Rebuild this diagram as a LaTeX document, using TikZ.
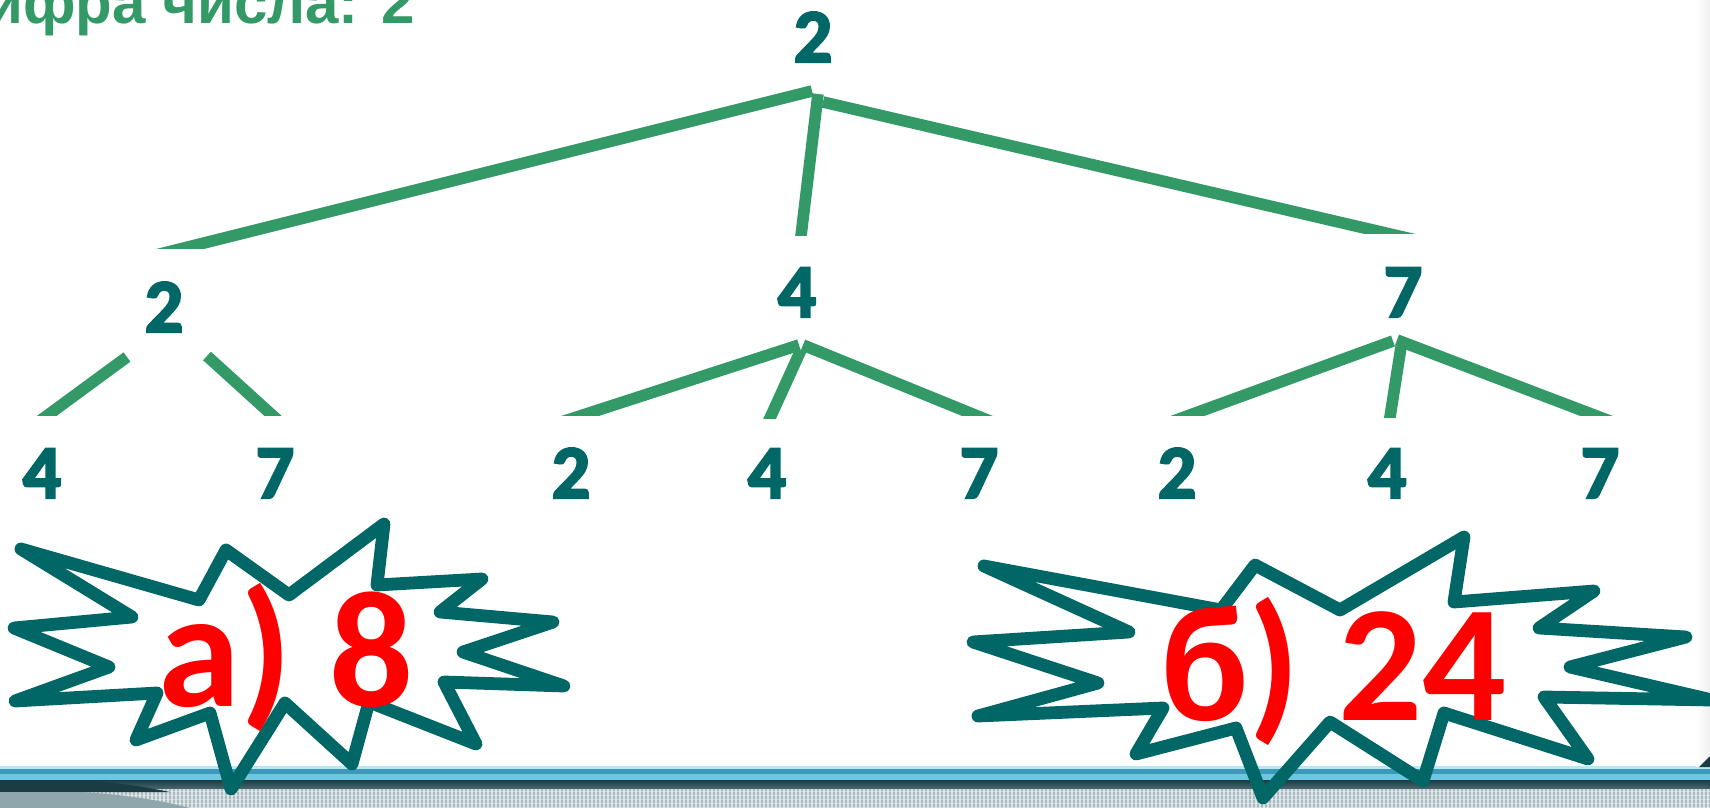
\documentclass[tikz,border=0pt]{standalone}
\usepackage{fontspec}
\setmainfont{Carlito}
\newfontfamily\headfont{Liberation Sans}
\newfontfamily\digitfont{Carlito Bold}[FakeBold=3]
\usetikzlibrary{calc}

\definecolor{branchgreen}{HTML}{339966}
\definecolor{digitteal}{HTML}{006666}
\definecolor{labelred}{HTML}{FF0000}
\definecolor{bandlight}{HTML}{BAE8F2}
\definecolor{bandblue}{HTML}{3E98BA}
\definecolor{bandsky}{HTML}{6FC6E0}
\definecolor{banddark}{HTML}{1C3C44}
\definecolor{bandmid}{HTML}{4A6870}
\definecolor{bandgrey}{HTML}{A9BBC0}
\definecolor{bandsolid}{HTML}{8FA6AD}

\tikzset{
  digit/.style={font=\digitfont\fontsize{38}{38}\selectfont, text=digitteal, inner sep=0pt, anchor=base},
  branch/.style={draw=branchgreen, line width=5.8pt, line cap=butt},
  burst/.style={draw=digitteal, line width=6.4pt, line join=round, line cap=round},
  answer/.style={font=\fontsize{83}{83}\selectfont\bfseries, text=labelred, inner sep=0pt, anchor=base west},
  heading/.style={font=\headfont\fontsize{30}{30}\selectfont\bfseries, text=branchgreen, inner sep=0pt, anchor=base east},
}

% a branch from #1 down to #2, its lower end cut level
\newcommand\twig[2]{%
  \begin{scope}
    \clip (0,0) rectangle (#2 -| edgeR);
    \draw[branch] (#1) -- ($(#1)!1.3!(#2)$);
  \end{scope}}

\begin{document}
\begin{tikzpicture}[x=0.5pt,y=-0.5pt]
\useasboundingbox (0,0) rectangle (1710,808);
\coordinate (edgeR) at (1710,0);

% ---- footer band ----
\fill[bandlight] (0,766) rectangle (1710,769);
\fill[bandblue] (0,769) rectangle (1710,774);
\fill[bandsky] (0,774) rectangle (1710,780);
\shade[top color=banddark, bottom color=bandmid] (0,780) rectangle (1710,789);
\fill[bandgrey] (0,789) rectangle (1710,808);
\foreach \x in {0,4,...,1708}
  \draw[white, opacity=.55, line width=.6pt] (\x,789) -- (\x,808);
\foreach \y in {791,795,...,807}
  \draw[white, opacity=.35, line width=.5pt] (0,\y) -- (1710,\y);
\fill[banddark] (0,780) -- (70,780) .. controls (110,781) and (140,786) .. (170,792) -- (0,792) -- cycle;
\fill[bandsolid] (0,792) -- (80,792) .. controls (120,794) and (160,800) .. (190,808) -- (0,808) -- cycle;
% right edge shade
\shade[left color=white, right color=black!6] (1696,0) rectangle (1710,766);
\fill[banddark] (1710,756) -- (1710,767) -- (1699,767) -- cycle;

% ---- heading ----
\node[heading] (head) at (415,24) {ифра числа: 2};

% ---- tree digits ----
\node[digit] (root) at (813,62) {2};
\node[digit] (m2) at (164,332) {2};
\node[digit] (m4) at (797,317) {4};
\node[digit] (m7) at (1403,317) {7};
\node[digit] (l1) at (42,498) {4};
\node[digit] (l2) at (275,498) {7};
\node[digit] (l3) at (571,498) {2};
\node[digit] (l4) at (767,498) {4};
\node[digit] (l5) at (979,498) {7};
\node[digit] (l6) at (1177,498) {2};
\node[digit] (l7) at (1387,498) {4};
\node[digit] (l8) at (1600,498) {7};

% ---- branch ends ----
\coordinate (rA) at (812,91);   \coordinate (rAe) at (180,249);
\coordinate (rB) at (818,94);   \coordinate (rBe) at (801,236);
\coordinate (rC) at (823,102);  \coordinate (rCe) at (1390,234);
\coordinate (p2A) at (127,357); \coordinate (p2Ae) at (48,415);
\coordinate (p2B) at (207,356); \coordinate (p2Be) at (272,415);
\coordinate (p4A) at (799,345); \coordinate (p4Ae) at (583,415);
\coordinate (p4B) at (801,350); \coordinate (p4Be) at (770,418);
\coordinate (p4C) at (803,345); \coordinate (p4Ce) at (975,415);
\coordinate (p7A) at (1393,341);\coordinate (p7Ae) at (1190,415);
\coordinate (p7B) at (1401,347);\coordinate (p7Be) at (1390,417);
\coordinate (p7C) at (1397,340);\coordinate (p7Ce) at (1594,415);

\twig{rA}{rAe} \twig{rB}{rBe} \twig{rC}{rCe}
\twig{p2A}{p2Ae} \twig{p2B}{p2Be}
\twig{p4A}{p4Ae} \twig{p4B}{p4Be} \twig{p4C}{p4Ce}
\twig{p7A}{p7Ae} \twig{p7B}{p7Be} \twig{p7C}{p7Ce}

% ---- bursts ----
\draw[burst] (21,549) -- (199,600) -- (226,550) -- (289,595) -- (384,524)
  -- (377,585) -- (482,579) -- (440,612) -- (553,622) -- (463,652)
  -- (564,686) -- (444,682) -- (476,744) -- (369,702) -- (352,764)
  -- (285,703) -- (231,789) -- (210,713) -- (136,740) -- (157,693)
  -- (15,701) -- (109,667) -- (14,628) -- (132,617) -- cycle;

\draw[burst] (984,566) -- (1221,610) -- (1255,565) -- (1340,610) -- (1464,537)
  -- (1454,602) -- (1594,591) -- (1539,628) -- (1686,637) -- (1570,667)
  -- (1712,700) -- (1544,697) -- (1588,759) -- (1444,713) -- (1423,781)
  -- (1330,722) -- (1263,798) -- (1236,728) -- (1136,754) -- (1163,708)
  -- (978,716) -- (1098,683) -- (973,642) -- (1129,632) -- cycle;

% ---- answers ----
\node[answer] (ansA) at (158,706) {а) 8};
\node[answer] (ansB) at (1160,720) {б) 24};
\end{tikzpicture}
\end{document}
